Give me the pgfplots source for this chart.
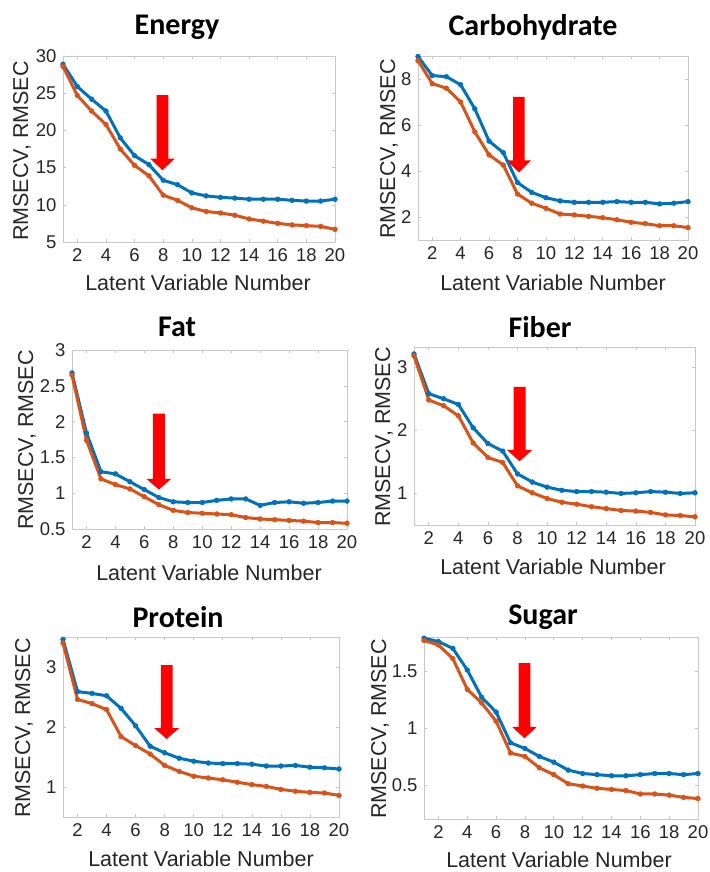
\documentclass[border=0pt]{standalone}
\usepackage{fontspec}
\setmainfont{Liberation Sans}
\newfontfamily\titlefont{Carlito}
\usepackage{pgfplots}
\usepackage{pgfplotstable}
\pgfplotsset{compat=1.18}

\definecolor{mblue}{RGB}{0,114,189}
\definecolor{morange}{RGB}{217,83,25}
\definecolor{axgray}{RGB}{200,200,200}

% columns: latent variables, RMSECV (blue), RMSEC (orange)
\pgfplotstableread{
n cv c
1 28.9 28.6
2 25.9 24.7
3 24.2 22.6
4 22.6 20.8
5 19.0 17.5
6 16.6 15.3
7 15.4 13.9
8 13.3 11.3
9 12.7 10.6
10 11.6 9.6
11 11.2 9.1
12 11.0 8.9
13 10.9 8.6
14 10.75 8.1
15 10.75 7.8
16 10.75 7.5
17 10.6 7.3
18 10.5 7.2
19 10.5 7.1
20 10.75 6.7
}\energy

\pgfplotstableread{
n cv c
1 8.98 8.8
2 8.15 7.8
3 8.1 7.6
4 7.75 7.0
5 6.7 5.7
6 5.3 4.7
7 4.8 4.26
8 3.5 3.0
9 3.07 2.6
10 2.84 2.38
11 2.7 2.13
12 2.64 2.09
13 2.64 2.03
14 2.64 1.97
15 2.67 1.88
16 2.64 1.77
17 2.64 1.71
18 2.57 1.62
19 2.6 1.62
20 2.67 1.54
}\carb

\pgfplotstableread{
n cv c
1 2.68 2.65
2 1.84 1.74
3 1.30 1.20
4 1.27 1.12
5 1.16 1.06
6 1.05 0.95
7 0.94 0.84
8 0.88 0.76
9 0.87 0.73
10 0.87 0.72
11 0.90 0.71
12 0.92 0.70
13 0.92 0.66
14 0.83 0.64
15 0.87 0.63
16 0.88 0.62
17 0.86 0.61
18 0.87 0.59
19 0.89 0.59
20 0.89 0.58
}\fat

\pgfplotstableread{
n cv c
1 3.21 3.18
2 2.58 2.48
3 2.50 2.39
4 2.41 2.23
5 2.04 1.80
6 1.79 1.57
7 1.67 1.49
8 1.31 1.12
9 1.18 1.01
10 1.10 0.92
11 1.05 0.86
12 1.03 0.83
13 1.03 0.79
14 1.02 0.76
15 1.00 0.73
16 1.01 0.72
17 1.03 0.70
18 1.02 0.66
19 1.00 0.65
20 1.01 0.63
}\fiber

\pgfplotstableread{
n cv c
1 3.46 3.40
2 2.59 2.46
3 2.56 2.39
4 2.52 2.29
5 2.31 1.84
6 2.02 1.69
7 1.68 1.55
8 1.57 1.36
9 1.48 1.26
10 1.43 1.18
11 1.40 1.15
12 1.39 1.12
13 1.39 1.08
14 1.38 1.04
15 1.35 1.01
16 1.35 0.96
17 1.36 0.93
18 1.33 0.91
19 1.32 0.90
20 1.30 0.86
}\protein

\pgfplotstableread{
n cv c
1 1.79 1.77
2 1.76 1.73
3 1.70 1.61
4 1.51 1.34
5 1.27 1.22
6 1.14 1.06
7 0.87 0.78
8 0.82 0.75
9 0.75 0.65
10 0.70 0.59
11 0.63 0.51
12 0.60 0.49
13 0.59 0.47
14 0.58 0.46
15 0.58 0.45
16 0.59 0.42
17 0.60 0.42
18 0.60 0.41
19 0.59 0.39
20 0.60 0.38
}\sugar

\pgfplotsset{
  panel/.style={
    scale only axis, anchor=south west,
    xmin=1, xmax=20, xtick={2,4,...,20},
    axis line style={axgray, line width=0.6pt},
    tick style={axgray, line width=0.6pt},
    tick align=inside, major tick length=3pt,
    ticklabel style={font=\fontsize{18.5}{18.5}\selectfont, text=black!85},
    xticklabel style={yshift=-3pt},
    yticklabel style={xshift=-3pt},
    /pgf/number format/assume math mode=true,
    clip=false,
  },
  cvline/.style={draw=mblue, line width=3pt, mark=*, mark size=2.4pt,
    mark options={fill=mblue, draw=mblue, line width=0.5pt}},
  cline/.style={draw=morange, line width=3pt, mark=*, mark size=2.4pt,
    mark options={fill=morange, draw=morange, line width=0.5pt}},
}

\tikzset{
  ttl/.style={font=\titlefont\bfseries\fontsize{30}{30}\selectfont},
  lbl/.style={font=\fontsize{21.5}{21.5}\selectfont, text=black!85},
}

\begin{document}
\begin{tikzpicture}[x=1pt,y=1pt]
\useasboundingbox (0,0) rectangle (709,-872);

% Energy
\begin{axis}[panel, at={(63pt,-242pt)}, width=272pt, height=186pt,
  ymin=5, ymax=30, ytick={5,10,...,30}]
\addplot[cvline] table[x=n,y=cv]{\energy};
\addplot[cline] table[x=n,y=c]{\energy};
\fill[red] (axis cs:7.54,24.75) -- (axis cs:8.36,24.75) -- (axis cs:8.36,16.2)
  -- (axis cs:8.8,16.2) -- (axis cs:7.95,14.65) -- (axis cs:7.1,16.2)
  -- (axis cs:7.54,16.2) -- cycle;
\end{axis}

% Carbohydrate
\begin{axis}[panel, at={(418pt,-240pt)}, width=270pt, height=184pt,
  ymin=1, ymax=9, ytick={2,4,6,8}]
\addplot[cvline] table[x=n,y=cv]{\carb};
\addplot[cline] table[x=n,y=c]{\carb};
\fill[red] (axis cs:7.69,7.22) -- (axis cs:8.51,7.22) -- (axis cs:8.51,4.46)
  -- (axis cs:8.95,4.46) -- (axis cs:8.1,3.94) -- (axis cs:7.25,4.46)
  -- (axis cs:7.69,4.46) -- cycle;
\end{axis}

% Fat
\begin{axis}[panel, at={(72pt,-529pt)}, width=275pt, height=179pt,
  ymin=0.5, ymax=3, ytick={0.5,1,...,3}]
\addplot[cvline] table[x=n,y=cv]{\fat};
\addplot[cline] table[x=n,y=c]{\fat};
\fill[red] (axis cs:6.59,2.11) -- (axis cs:7.41,2.11) -- (axis cs:7.41,1.2)
  -- (axis cs:7.85,1.2) -- (axis cs:7.0,1.05) -- (axis cs:6.15,1.2)
  -- (axis cs:6.59,1.2) -- cycle;
\end{axis}

% Fiber
\begin{axis}[panel, at={(414pt,-525pt)}, width=281pt, height=178pt,
  ymin=0.5, ymax=3.32, ytick={1,2,3}]
\addplot[cvline] table[x=n,y=cv]{\fiber};
\addplot[cline] table[x=n,y=c]{\fiber};
\fill[red] (axis cs:7.73,2.69) -- (axis cs:8.55,2.69) -- (axis cs:8.55,1.69)
  -- (axis cs:8.99,1.69) -- (axis cs:8.14,1.51) -- (axis cs:7.29,1.69)
  -- (axis cs:7.73,1.69) -- cycle;
\end{axis}

% Protein
\begin{axis}[panel, at={(63pt,-817pt)}, width=276pt, height=180pt,
  ymin=0.5, ymax=3.5, ytick={1,2,3}]
\addplot[cvline] table[x=n,y=cv]{\protein};
\addplot[cline] table[x=n,y=c]{\protein};
\fill[red] (axis cs:7.73,3.03) -- (axis cs:8.55,3.03) -- (axis cs:8.55,1.98)
  -- (axis cs:8.99,1.98) -- (axis cs:8.14,1.80) -- (axis cs:7.29,1.98)
  -- (axis cs:7.73,1.98) -- cycle;
\end{axis}

% Sugar
\begin{axis}[panel, at={(424pt,-819pt)}, width=274pt, height=182pt,
  ymin=0.2, ymax=1.8, ytick={0.5,1,1.5}]
\addplot[cvline] table[x=n,y=cv]{\sugar};
\addplot[cline] table[x=n,y=c]{\sugar};
\fill[red] (axis cs:7.56,1.57) -- (axis cs:8.38,1.57) -- (axis cs:8.38,1.01)
  -- (axis cs:8.82,1.01) -- (axis cs:7.97,0.91) -- (axis cs:7.12,1.01)
  -- (axis cs:7.56,1.01) -- cycle;
\end{axis}

% titles
\node[ttl] at (177,-27) {Energy};
\node[ttl] at (533,-27) {Carbohydrate};
\node[ttl] at (177,-327) {Fat};
\node[ttl] at (540,-327) {Fiber};
\node[ttl] at (178,-617) {Protein};
\node[ttl] at (543,-617) {Sugar};

% y labels
\node[lbl, rotate=90] at (22,-151) {RMSECV, RMSEC};
\node[lbl, rotate=90] at (389,-149) {RMSECV, RMSEC};
\node[lbl, rotate=90] at (27,-440) {RMSECV, RMSEC};
\node[lbl, rotate=90] at (384,-437) {RMSECV, RMSEC};
\node[lbl, rotate=90] at (24,-728) {RMSECV, RMSEC};
\node[lbl, rotate=90] at (380,-729) {RMSECV, RMSEC};

% x labels
\node[lbl] at (198,-283) {Latent Variable Number};
\node[lbl] at (553,-283) {Latent Variable Number};
\node[lbl] at (209,-573) {Latent Variable Number};
\node[lbl] at (553,-567) {Latent Variable Number};
\node[lbl] at (201,-859) {Latent Variable Number};
\node[lbl] at (559,-860) {Latent Variable Number};
\end{tikzpicture}
\end{document}
